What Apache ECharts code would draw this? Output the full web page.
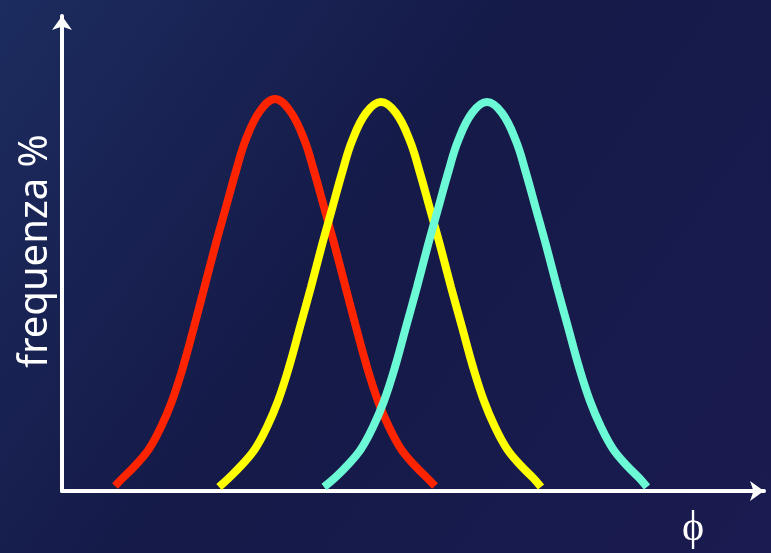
<!DOCTYPE html>
<html>
<head>
<meta charset="utf-8">
<script src="https://cdn.jsdelivr.net/npm/echarts@6/dist/echarts.min.js"></script>
<style>
html,body{margin:0;padding:0;width:771px;height:553px;overflow:hidden;background:#181d50;}
#chart{width:771px;height:553px;}
</style>
</head>
<body>
<div id="chart"></div>
<script>
// Axis titles
var yTitle = 'frequenza %';
var xTitle = '\u03D5';

// Red curve (φ, frequenza %)
var phiRed  = [53, 61, 73, 87, 99, 110, 121, 132, 143, 154, 164, 174, 184, 198, 213, 228, 242, 252, 262, 272, 283, 294, 305, 316, 327, 339, 353, 365, 373];
var freqRed = [1.25, 3.3, 6.3, 10.5, 16, 22.5, 31, 41, 51.5, 62, 71, 80, 88, 95, 98, 95, 88, 80, 71, 62, 51.5, 41, 31, 22.5, 16, 10.5, 6.3, 3.3, 1.25];

// Yellow curve
var phiYellow  = [157, 167, 179, 193, 205, 216, 227, 238, 249, 260, 270, 280, 290, 304, 319, 334, 348, 358, 368, 378, 389, 400, 411, 422, 433, 445, 459, 471, 479];
var freqYellow = [1, 3.3, 6.3, 10.5, 16, 22.5, 31, 41, 51, 61.5, 70.5, 79.5, 87.5, 94.5, 97.25, 94.5, 87.5, 79.5, 70.5, 61.5, 51, 41, 31, 22.5, 16, 10.5, 6.3, 3.3, 1];

// Aquamarine curve
var phiAqua  = [262, 273, 285, 299, 311, 322, 333, 344, 355, 366, 376, 386, 396, 410, 425, 440, 454, 464, 474, 484, 495, 506, 517, 528, 539, 551, 565, 577, 585];
var freqAqua = [1, 3.3, 6.3, 10.5, 16, 22.5, 31, 41, 51, 61.5, 70.5, 79.5, 87.5, 94.5, 97.25, 94.5, 87.5, 79.5, 70.5, 61.5, 51, 41, 31, 22.5, 16, 10.5, 6.3, 3.3, 1];

function pairs(xs, ys) {
  var out = [];
  for (var i = 0; i < xs.length; i++) out.push([xs[i], ys[i]]);
  return out;
}

var chart = echarts.init(document.getElementById('chart'), null, {renderer: 'canvas'});

var axisCommon = {
  axisLine: {
    show: true,
    symbol: ['none', 'arrow'],
    symbolSize: [15, 14],
    lineStyle: {color: '#ffffff', width: 4}
  },
  axisTick: {show: false},
  axisLabel: {show: false},
  splitLine: {show: false}
};

function curve(name, data, color) {
  return {
    name: name,
    type: 'line',
    data: data,
    smooth: 0.4,
    symbol: 'none',
    lineStyle: {color: color, width: 8},
    silent: true,
    animation: false
  };
}

chart.setOption({
  animation: false,
  backgroundColor: {
    type: 'linear', x: 0, y: 0, x2: 1, y2: 1,
    colorStops: [
      {offset: 0, color: '#1c2c5e'},
      {offset: 0.45, color: '#151a48'},
      {offset: 1, color: '#1a1b50'}
    ]
  },
  grid: {left: 62, right: 7, top: 16, bottom: 62, containLabel: false},
  xAxis: Object.assign({type: 'value', min: 0, max: 702}, axisCommon),
  yAxis: Object.assign({type: 'value', min: 0, max: 118.75}, axisCommon),
  series: [
    curve('rosso', pairs(phiRed, freqRed), '#ff2400'),
    curve('giallo', pairs(phiYellow, freqYellow), '#ffff00'),
    curve('acqua', pairs(phiAqua, freqAqua), '#6cfad6')
  ],
  graphic: [
    {
      type: 'text',
      x: 36, y: 251,
      rotation: Math.PI / 2,
      style: {
        text: yTitle,
        font: '40px "Noto Sans"',
        fill: '#ffffff',
        align: 'center',
        verticalAlign: 'middle'
      }
    },
    {
      type: 'text',
      x: 693, y: 529,
      style: {
        text: xTitle,
        font: '42px "Liberation Serif"',
        fill: '#ffffff',
        align: 'center',
        verticalAlign: 'middle'
      }
    }
  ]
});
</script>
</body>
</html>
